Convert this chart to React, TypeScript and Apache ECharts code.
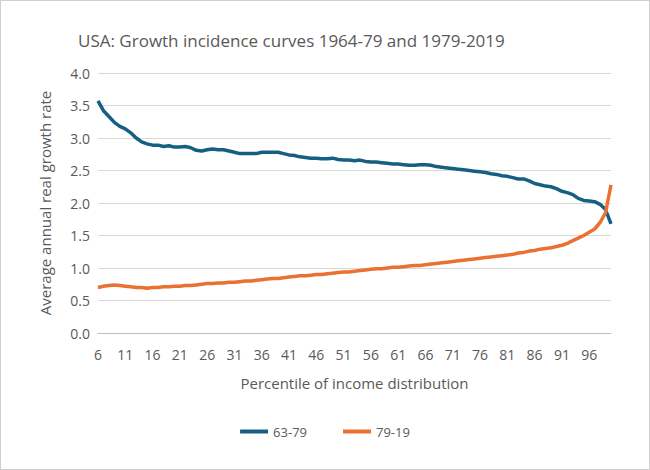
import { useEffect, useRef } from "react";
import * as echarts from "echarts";

const percentiles: string[] = [];
for (let p = 6; p <= 100; p++) percentiles.push(String(p));

const s6379 = [
  3.57, 3.42, 3.33, 3.24, 3.18, 3.14, 3.08, 3.0, 2.94, 2.91,
  2.89, 2.89, 2.87, 2.88, 2.86, 2.86, 2.87, 2.85, 2.81, 2.8,
  2.82, 2.83, 2.82, 2.82, 2.8, 2.78, 2.76, 2.76, 2.76, 2.76,
  2.78, 2.78, 2.78, 2.78, 2.76, 2.74, 2.73, 2.71, 2.7, 2.69,
  2.69, 2.68, 2.68, 2.69, 2.67, 2.66, 2.66, 2.65, 2.66, 2.64,
  2.63, 2.63, 2.62, 2.61, 2.6, 2.6, 2.59, 2.58, 2.58, 2.59,
  2.59, 2.58, 2.56, 2.55, 2.54, 2.53, 2.52, 2.51, 2.5, 2.49,
  2.48, 2.47, 2.45, 2.44, 2.42, 2.41, 2.39, 2.37, 2.37, 2.34,
  2.3, 2.28, 2.26, 2.25, 2.22, 2.18, 2.16, 2.13, 2.07, 2.04,
  2.03, 2.02, 1.98, 1.9, 1.68,
];

const s7919 = [
  0.7, 0.72, 0.73, 0.74, 0.73, 0.72, 0.71, 0.7, 0.7, 0.69,
  0.7, 0.7, 0.71, 0.71, 0.72, 0.72, 0.73, 0.73, 0.74, 0.75,
  0.76, 0.76, 0.77, 0.77, 0.78, 0.78, 0.79, 0.8, 0.8, 0.81,
  0.82, 0.83, 0.84, 0.84, 0.85, 0.86, 0.87, 0.88, 0.88, 0.89,
  0.9, 0.9, 0.91, 0.92, 0.93, 0.94, 0.94, 0.95, 0.96, 0.97,
  0.98, 0.99, 0.99, 1.0, 1.01, 1.01, 1.02, 1.03, 1.04, 1.04,
  1.05, 1.06, 1.07, 1.08, 1.09, 1.1, 1.11, 1.12, 1.13, 1.14,
  1.15, 1.16, 1.17, 1.18, 1.19, 1.2, 1.21, 1.23, 1.24, 1.26,
  1.27, 1.29, 1.3, 1.31, 1.33, 1.35, 1.38, 1.42, 1.46, 1.5,
  1.55, 1.6, 1.7, 1.85, 2.28,
];

export default function App() {
  const ref = useRef<HTMLDivElement>(null);

  useEffect(() => {
    if (!ref.current) return;
    const chart = echarts.init(ref.current, undefined, { renderer: "svg" });
    const font = "Open Sans, Liberation Sans, sans-serif";
    chart.setOption({
      animation: false,
      backgroundColor: "#fff",
      textStyle: { fontFamily: font },
      title: {
        text: "USA: Growth incidence curves 1964-79 and 1979-2019",
        left: 72,
        top: 26,
        textStyle: { fontSize: 17, fontWeight: "normal", color: "#595959", fontFamily: font },
      },
      legend: {
        bottom: 26,
        left: "center",
        itemWidth: 28,
        itemHeight: 4,
        itemGap: 36,
        icon: "rect",
        textStyle: { fontSize: 13, color: "#595959" },
        data: ["63-79", "79-19"],
      },
      grid: { left: 97, right: 38, top: 72, bottom: 136 },
      xAxis: {
        type: "category",
        data: percentiles,
        boundaryGap: false,
        name: "Percentile of income distribution",
        nameLocation: "middle",
        nameGap: 42,
        nameTextStyle: { fontSize: 15, color: "#595959" },
        axisLine: { lineStyle: { color: "#bfbfbf" } },
        axisTick: { show: false },
        axisLabel: { interval: 4, fontSize: 14, margin: 14, color: "#595959" },
      },
      yAxis: {
        type: "value",
        min: 0,
        max: 4,
        interval: 0.5,
        name: "Average annual real growth rate",
        nameLocation: "middle",
        nameGap: 46,
        nameTextStyle: { fontSize: 15, color: "#595959" },
        axisLabel: { fontSize: 14, color: "#595959", formatter: (v: number) => v.toFixed(1) },
        splitLine: { lineStyle: { color: "#d9d9d9" } },
      },
      series: [
        {
          name: "63-79",
          type: "line",
          data: s6379,
          showSymbol: false,
          color: "#156082",
          lineStyle: { width: 3.5 },
        },
        {
          name: "79-19",
          type: "line",
          data: s7919,
          showSymbol: false,
          color: "#E97132",
          lineStyle: { width: 3.5 },
        },
      ],
    });
    return () => chart.dispose();
  }, []);

  return (
    <div
      ref={ref}
      style={{ position: "absolute", left: 0, top: 0, width: 650, height: 470, boxSizing: "border-box", border: "1px solid #d0d0d0" }}
    />
  );
}
